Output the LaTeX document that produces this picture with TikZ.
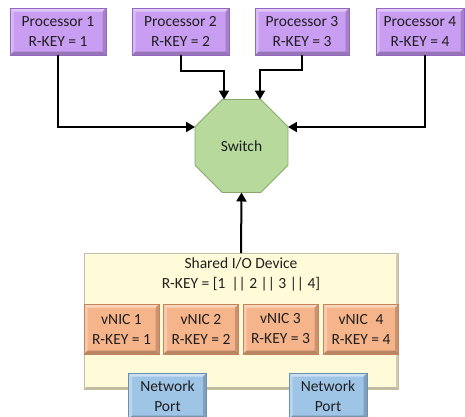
\documentclass[tikz,border=0pt]{standalone}
\usepackage{fontspec}
\setmainfont{Carlito}
\usetikzlibrary{shapes.geometric,arrows.meta}

\definecolor{txt}{HTML}{1F1F1F}
\definecolor{procfill}{HTML}{C99DF2}
\definecolor{procline}{HTML}{9468C2}
\definecolor{swfill}{HTML}{B7D99B}
\definecolor{swline}{HTML}{88A86C}
\definecolor{devfill}{HTML}{FFFBD8}
\definecolor{devline}{HTML}{C4BE9E}
\definecolor{nicfill}{HTML}{F6B48A}
\definecolor{nicline}{HTML}{C3845A}
\definecolor{portfill}{HTML}{9EC4E6}
\definecolor{portline}{HTML}{6A90B2}

\tikzset{
  % raised-panel edges: light on top and left, dark on bottom and right
  bevel/.style={path picture={
    \fill[white,opacity=.45]
      (path picture bounding box.north west) -- (path picture bounding box.north east)
      -- ([shift={(-#1,-#1)}]path picture bounding box.north east)
      -- ([shift={(#1,-#1)}]path picture bounding box.north west) -- cycle;
    \fill[white,opacity=.3]
      (path picture bounding box.north west) -- (path picture bounding box.south west)
      -- ([shift={(#1,#1)}]path picture bounding box.south west)
      -- ([shift={(#1,-#1)}]path picture bounding box.north west) -- cycle;
    \fill[black,opacity=.25]
      (path picture bounding box.south west) -- (path picture bounding box.south east)
      -- ([shift={(-#1,#1)}]path picture bounding box.south east)
      -- ([shift={(#1,#1)}]path picture bounding box.south west) -- cycle;
    \fill[black,opacity=.18]
      (path picture bounding box.north east) -- (path picture bounding box.south east)
      -- ([shift={(-#1,#1)}]path picture bounding box.south east)
      -- ([shift={(-#1,-#1)}]path picture bounding box.north east) -- cycle;
  }},
  box/.style={rectangle, inner sep=0pt, outer sep=0pt, align=center,
    text=txt, font=\fontsize{15.5}{20}\selectfont, line width=0.8pt, bevel=3.5pt},
  proc/.style={box, fill=procfill, draw=procline, minimum height=47pt},
  nic/.style={box, fill=nicfill, draw=nicline, minimum width=75pt, minimum height=50pt},
  port/.style={box, fill=portfill, draw=portline, minimum width=78pt, minimum height=46pt},
  device/.style={rectangle, inner sep=0pt, outer sep=0pt, fill=devfill, draw=devline,
    line width=0.8pt, minimum width=314pt, minimum height=136pt, bevel=2pt},
  octo/.style={regular polygon, regular polygon sides=8, inner sep=0pt, outer sep=0pt,
    minimum size=100.6pt, fill=swfill, draw=swline, line width=0.8pt,
    text=txt, font=\fontsize{15.5}{20}\selectfont},
  arr/.style={line width=2pt, -{Triangle[length=9pt,width=10pt]}},
}

\begin{document}
\begin{tikzpicture}[x=1pt,y=-1pt]
\useasboundingbox[fill=white] (0,0) rectangle (465,416);

% processors
\node[proc, minimum width=96pt] (p1) at (58,31.5) {Processor 1\\R-KEY = 1};
\node[proc, minimum width=97pt] (p2) at (180.5,31.5) {Processor 2\\R-KEY = 2};
\node[proc, minimum width=94pt] (p3) at (302,31.5) {Processor 3\\R-KEY = 3};
\node[proc, minimum width=88pt] (p4) at (420,31.5) {Processor 4\\R-KEY = 4};

% switch
\node[octo] (sw) at (241.5,146) {Switch};

% shared device with its vNICs and ports
\node[device] (dev) at (241,321) {};
\node[text=txt, font=\fontsize{15.5}{20}\selectfont, align=center, inner sep=0pt]
  (devlabel) at (241,274) {Shared I/O Device\\R-KEY = [1 \,|| 2 || 3 || 4]};
\node[nic] (n1) at (121.5,329) {vNIC 1\\R-KEY = 1};
\node[nic] (n2) at (201,329) {vNIC 2\\R-KEY = 2};
\node[nic] (n3) at (280.5,329) {vNIC 3\\R-KEY = 3};
\node[nic] (n4) at (361,329) {vNIC \;4\\R-KEY = 4};
\node[port] (np1) at (167.5,396) {Network\\Port};
\node[port] (np2) at (328,396) {Network\\Port};

% connectors into the switch (shifts are in page directions: positive is up)
\draw[arr] (p1.south) |- ([yshift=19pt]sw.west);
\draw[arr] (p2.south) -- ++(0,16) -| ([xshift=-17.5pt]sw.north);
\draw[arr] (p3.south) -- ++(0,15) -| ([xshift=18.5pt]sw.north);
\draw[arr] ([xshift=5pt]p4.south) |- ([yshift=19pt]sw.east);
\draw[arr] (dev.north) -- (sw.south);
\end{tikzpicture}
\end{document}
